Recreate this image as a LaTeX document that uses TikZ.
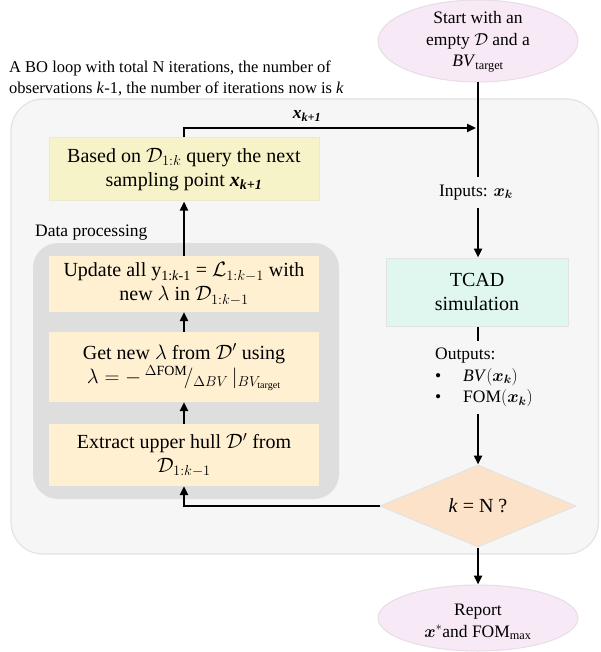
\documentclass[tikz,border=0pt]{standalone}
\usepackage{amsmath,bm}
\usepackage{fontspec}
\setmainfont{Liberation Serif}
\usetikzlibrary{shapes.geometric,arrows.meta}
\definecolor{contfill}{HTML}{F6F6F6}
\definecolor{contdraw}{HTML}{E3E3E3}
\definecolor{panelfill}{HTML}{DEDEDE}
\definecolor{queryfill}{HTML}{F7F3C8}
\definecolor{querydraw}{HTML}{ECE9CF}
\definecolor{procfill}{HTML}{FFF0D2}
\definecolor{tcadfill}{HTML}{DFF7EF}
\definecolor{decfill}{HTML}{FCE2C8}
\definecolor{ellfill}{HTML}{F8E9F6}
\definecolor{elldraw}{HTML}{E6DDE6}
\begin{document}
\begin{tikzpicture}[x=1pt,y=-1pt,
  conn/.style={line width=2.4pt,-{Triangle[length=9pt,width=8pt]}},
  plainline/.style={line width=2.4pt},
  mainfont/.style={font={\fontsize{20}{24}\selectfont}},
  smallfont/.style={font={\fontsize{17.5}{21.5}\selectfont}},
  procbox/.style={rectangle,fill=procfill,minimum width=270pt,inner sep=0pt,align=center,mainfont},
  termell/.style={ellipse,fill=ellfill,draw=elldraw,line width=1pt,minimum width=200pt,inner sep=0pt},
  txt/.style={inner sep=0pt,align=center,smallfont}]
\useasboundingbox (0,0) rectangle (600,652);
% container
\draw[fill=contfill,draw=contdraw,line width=1.2pt,rounded corners=32pt] (11,99) rectangle (598.5,554);
% data processing panel
\fill[panelfill,rounded corners=25pt] (33,243) rectangle (339,499);
% caption
\node[anchor=west,inner sep=0pt,align=left,font={\fontsize{16.5}{21}\selectfont}] (caption) at (9,78.5)
  {A BO loop with total N iterations, the number of\\observations \textit{k}-1, the number of iterations now is \textit{k}};
\node[anchor=west,inner sep=0pt,smallfont] (dplabel) at (35,233) {Data processing};
% start / report
\node[termell,minimum height=82pt] (start) at (478,41) {};
\node[txt] (starttext) at (478,42) {Start with an\\empty $\mathcal{D}$ and a\\\textit{BV}\textsubscript{target}};
\node[termell,minimum height=66pt] (report) at (478,618) {};
\node[txt] (reporttext) at (478,622) {Report\\$\bm{x}^{*}$and FOM\textsubscript{max}};
% query box
\node[rectangle,fill=queryfill,draw=querydraw,line width=1pt,minimum width=270pt,minimum height=63pt,inner sep=0pt,align=center,mainfont] (query) at (184,169.5)
  {Based on $\mathcal{D}_{1:k}$ query the next\\sampling point {\bfseries\itshape x\textsubscript{k+1}}};
% processing boxes
\node[procbox,minimum height=56pt] (b1) at (184,284)
  {Update all y\textsubscript{1:\textit{k}-1} = $\mathcal{L}_{1:k-1}$ with\\new $\lambda$ in $\mathcal{D}_{1:k-1}$};
\node[procbox,minimum height=70pt] (b2) at (184,367)
  {Get new $\lambda$ from $\mathcal{D}'$ using\\$\lambda = -\,{}^{\Delta\mathrm{FOM}}\!/_{\Delta BV}\,|_{BV_{\mathrm{target}}}$};
\node[procbox,minimum height=62pt] (b3) at (184,455)
  {Extract upper hull $\mathcal{D}'$ from\\$\mathcal{D}_{1:k-1}$};
% right column
\node[inner sep=0pt,minimum height=31pt,smallfont] (inputs) at (476,192.5) {Inputs: $\bm{x}_{\bm{k}}$};
\node[rectangle,fill=tcadfill,draw=contdraw,line width=1pt,minimum width=182pt,minimum height=68pt,inner sep=0pt,align=center,mainfont] (tcad) at (477,292)
  {TCAD\\simulation};
\node[anchor=west,inner sep=0pt,minimum height=72pt,align=left,smallfont] (outputs) at (435,377.5)
  {Outputs:\\\makebox[28pt][l]{\textbullet}\textit{BV}$(\bm{x}_{\bm{k}})$\\\makebox[28pt][l]{\textbullet}FOM$(\bm{x}_{\bm{k}})$};
\node[diamond,fill=decfill,draw=contdraw,line width=1pt,minimum width=196pt,minimum height=82pt,inner sep=0pt,mainfont] (dec) at (478,506)
  {\textit{k} = N ?};
\coordinate (join) at (476,128);
\node[inner sep=0pt,font={\fontsize{17.5}{20}\selectfont}] (xlabel) at (307,116) {\bfseries\itshape x\textsubscript{k+1}};
% connectors
\draw[plainline] (start.south) -- (start.south |- inputs.north);
\draw[conn] (start.south |- inputs.south) -- (dec.north |- tcad.north);
\draw[plainline] (dec.north |- tcad.south) -- (dec.north |- outputs.north);
\draw[conn] (dec.north |- outputs.south) -- (dec.north);
\draw[conn] (dec.south) -- (report.north);
\draw[conn] (dec.west) -| (b3.south);
\draw[conn] (b3.north) -- (b2.south);
\draw[conn] (b2.north) -- (b1.south);
\draw[conn] (b1.north) -- (query.south);
\draw[conn] (query.north) |- (join);
\end{tikzpicture}
\end{document}
